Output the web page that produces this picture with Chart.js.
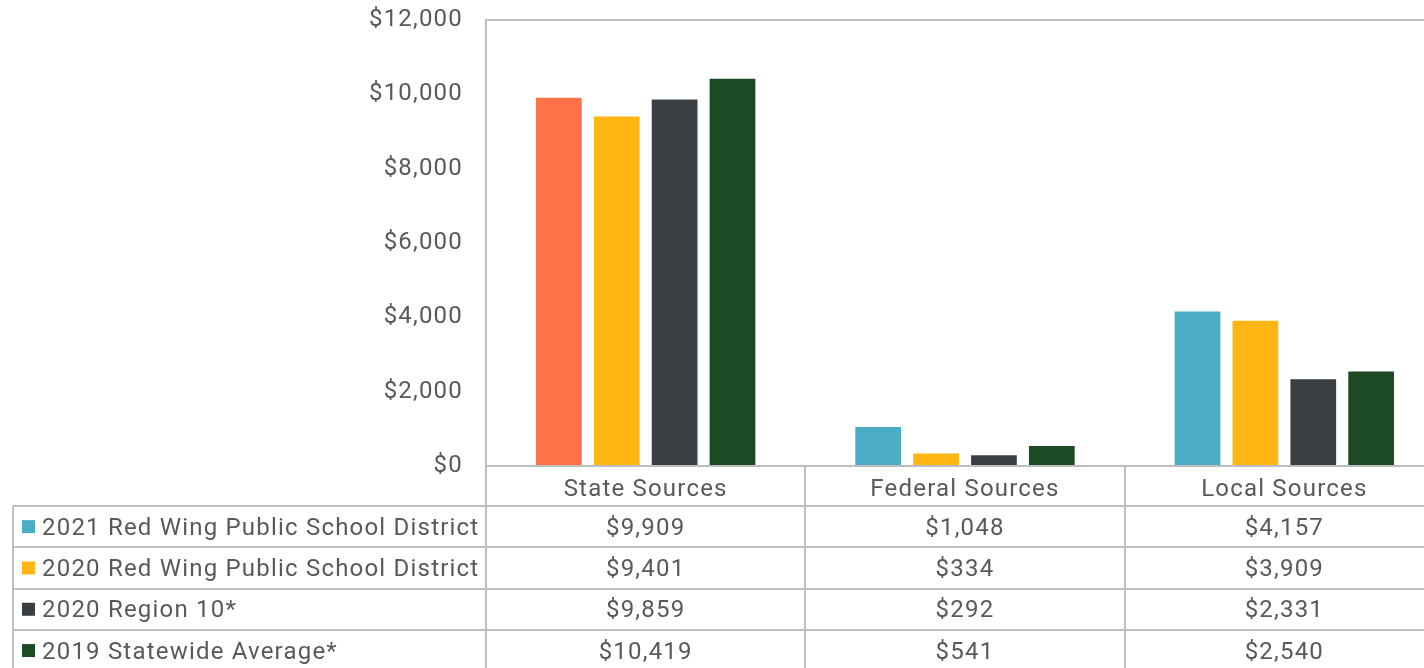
<!DOCTYPE html>
<html>
<head>
<meta charset="utf-8">
<script src="https://cdn.jsdelivr.net/npm/chart.js@4"></script>
<style>
    html, body { margin: 0; padding: 0; background: #fff; overflow: hidden; }
    #wrap { width: 1444px; height: 668px; position: relative; }
</style>
</head>
<body>
<div id="wrap"><canvas id="chart"></canvas></div>
<script>
// Chart data
const categories = ['State Sources', 'Federal Sources', 'Local Sources'];
const seriesNames = [
    '2021 Red Wing Public School District',
    '2020 Red Wing Public School District',
    '2020 Region 10*',
    '2019 Statewide Average*'
];
const redWing2021 = [9909, 1048, 4157];
const redWing2020 = [9401, 334, 3909];
const region10 = [9859, 292, 2331];
const statewide2019 = [10419, 541, 2540];
const yTicks = [0, 2000, 4000, 6000, 8000, 10000, 12000];

const colors = ['#4BACC6', '#FFB613', '#3A3F44', '#1B4A25'];
const highlight = '#FF7149'; // first bar of State Sources is drawn in orange
const lineColor = '#BEBEBE';
const textColor = '#595959';
const fontFamily = 'Roboto, "Noto Sans", sans-serif';
const fontSize = 24;
const spacing = '1.2px';

const fmt = v => '$' + v.toLocaleString('en-US');

// Data table drawn under the x axis, lined up with the category scale
const tablePlugin = {
    id: 'dataTable',
    beforeUpdate(chart) { chart.ctx.letterSpacing = spacing; },
    beforeDraw(chart) { chart.ctx.letterSpacing = spacing; },
    afterDraw(chart) {
        const ctx = chart.ctx;
        const x = chart.scales.x;
        const area = chart.chartArea;
        const headerH = 40;
        const rowH = 41.3;
        const tableLeft = 13;
        const rows = chart.data.datasets;

        ctx.save();
        ctx.letterSpacing = spacing;
        ctx.strokeStyle = lineColor;
        ctx.lineWidth = 2;

        // horizontal row lines
        for (let r = 0; r <= rows.length; r++) {
            const y = Math.round(area.bottom + headerH + r * rowH);
            ctx.beginPath();
            ctx.moveTo(tableLeft, y);
            ctx.lineTo(chart.width, y);
            ctx.stroke();
        }
        // left edge of the series column
        ctx.beginPath();
        ctx.moveTo(tableLeft, area.bottom + headerH);
        ctx.lineTo(tableLeft, chart.height);
        ctx.stroke();

        ctx.font = fontSize + 'px ' + fontFamily;
        ctx.fillStyle = textColor;
        ctx.textBaseline = 'middle';

        rows.forEach((ds, r) => {
            const cy = area.bottom + headerH + r * rowH + rowH / 2;
            // legend key
            ctx.fillStyle = colors[r];
            ctx.fillRect(22, cy - 6.5, 13, 13);
            ctx.fillStyle = textColor;
            ctx.textAlign = 'left';
            ctx.fillText(ds.label, 42, cy + 2);
            // values
            ctx.textAlign = 'center';
            ds.data.forEach((v, i) => {
                ctx.fillText(fmt(v), x.getPixelForValue(i), cy + 2);
            });
        });
        ctx.restore();
    }
};

const datasets = [redWing2021, redWing2020, region10, statewide2019].map((data, i) => ({
    label: seriesNames[i],
    data: data,
    backgroundColor: i === 0 ? data.map((_, j) => j === 0 ? highlight : colors[0]) : colors[i],
    borderWidth: 0,
    categoryPercentage: 0.725,
    barPercentage: 0.79
}));

new Chart(document.getElementById('chart'), {
    type: 'bar',
    data: { labels: categories, datasets },
    options: {
        responsive: true,
        maintainAspectRatio: false,
        animation: false,
        layout: { padding: { top: 20, left: 0, right: 0, bottom: 0 } },
        plugins: {
            legend: { display: false },
            tooltip: { enabled: false }
        },
        scales: {
            y: {
                min: 0,
                max: 12000,
                afterBuildTicks: scale => { scale.ticks = yTicks.map(v => ({ value: v })); },
                afterFit: scale => { scale.width = 486; },
                ticks: {
                    padding: 2,
                    color: textColor,
                    font: { family: fontFamily, size: fontSize },
                    callback: v => fmt(v)
                },
                grid: {
                    drawTicks: true,
                    tickLength: 21,
                    tickColor: 'transparent',
                    lineWidth: 2,
                    color: c => c.tick && c.tick.value === 12000 ? lineColor : 'transparent'
                },
                border: { display: true, color: lineColor, width: 2 }
            },
            x: {
                afterFit: scale => { scale.height = 202; },
                ticks: {
                    padding: -192,
                    color: textColor,
                    font: { family: fontFamily, size: fontSize }
                },
                grid: {
                    offset: true,
                    drawOnChartArea: false,
                    drawTicks: true,
                    tickLength: 202,
                    lineWidth: 2,
                    color: lineColor
                },
                border: { display: true, color: lineColor, width: 2 }
            }
        }
    },
    plugins: [tablePlugin]
});
</script>
</body>
</html>
